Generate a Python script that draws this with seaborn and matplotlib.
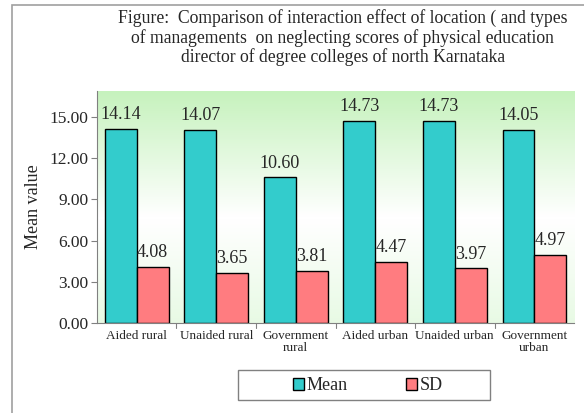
import numpy as np
import pandas as pd
import matplotlib.pyplot as plt
import seaborn as sns
from matplotlib.patches import Rectangle
from matplotlib.colors import LinearSegmentedColormap

# data
groups = ['Aided rural', 'Unaided rural', 'Government\nrural',
          'Aided urban', 'Unaided urban', 'Government\nurban']
mean_vals = [14.14, 14.07, 10.60, 14.73, 14.73, 14.05]
sd_vals = [4.08, 3.65, 3.81, 4.47, 3.97, 4.97]
y_ticks = [0, 3, 6, 9, 12, 15]

df = pd.DataFrame({
    'group': groups * 2,
    'value': mean_vals + sd_vals,
    'stat': ['Mean'] * len(groups) + ['SD'] * len(groups),
})

sns.set_style('white')
plt.rcParams['font.family'] = ['Liberation Serif', 'DejaVu Serif']

fig = plt.figure(figsize=(5.84, 4.13), dpi=100)
ax = fig.add_axes([0.166, 0.218, 0.817, 0.562])

# outer chart frame
fig.patches.append(Rectangle((0.021, -0.05), 1.05, 1.038, transform=fig.transFigure,
                             fill=False, edgecolor='#a0a0a0', lw=1.2))

# green gradient background of the plot area
grad = np.concatenate([np.linspace(0, 1, 55), np.linspace(1, 0.6, 45)])[:, None]
cmap = LinearSegmentedColormap.from_list('bg', ['#c6f2bd', '#ffffff'])
ax.imshow(grad, aspect='auto', cmap=cmap, extent=[-0.5, 5.5, 0, 16.9],
          origin='upper', zorder=0, vmin=0, vmax=1)

sns.barplot(data=df, x='group', y='value', hue='stat',
            palette={'Mean': '#33cccc', 'SD': '#ff7c80'}, saturation=1,
            edgecolor='black', linewidth=1.0, width=0.8, ax=ax, zorder=2)

for cont in ax.containers:
    ax.bar_label(cont, fmt='%.2f', fontsize=13, padding=4)

ax.set_xlim(-0.5, 5.5)
ax.set_ylim(0, 16.9)
ax.set_yticks(y_ticks)
ax.set_yticklabels([f'{t:.2f}' for t in y_ticks], fontsize=12.5)
ax.set_xticks(range(len(groups)))
ax.set_xticklabels(groups, fontsize=9.5, linespacing=1.05)
ax.set_xlabel('')
ax.set_ylabel('Mean value', fontsize=13)
ax.yaxis.set_label_coords(-0.115, 0.5)

for s in ['top', 'right']:
    ax.spines[s].set_visible(False)
ax.spines['left'].set_color('#808080')
ax.spines['bottom'].set_color('#808080')
ax.tick_params(axis='y', length=4, color='#808080', left=True, pad=2)
ax.tick_params(axis='x', length=0, pad=5)
for b in np.arange(0.5, 5, 1):
    ax.plot([b, b], [0, -0.35], color='#808080', lw=0.8, clip_on=False)

fig.text(0.587, 0.977, 'Figure:  Comparison of interaction effect of location ( and types\n'
         'of managements  on neglecting scores of physical education\n'
         'director of degree colleges of north Karnataka',
         ha='center', va='top', fontsize=12.7, linespacing=1.1)

# legend with its own wide box like the reference
leg = ax.legend(loc='center', bbox_to_anchor=(0.63, 0.066), bbox_transform=fig.transFigure,
                ncol=2, frameon=False,
                fontsize=13, handlelength=0.6, handleheight=0.6, handletextpad=0.15,
                columnspacing=3.2)
for h in leg.legend_handles:
    h.set_edgecolor('black')
fig.patches.append(Rectangle((0.4075, 0.031), 0.4315, 0.073, transform=fig.transFigure,
                             fill=False, edgecolor='#808080', lw=1.0))

fig.savefig('out.png', dpi=100)
